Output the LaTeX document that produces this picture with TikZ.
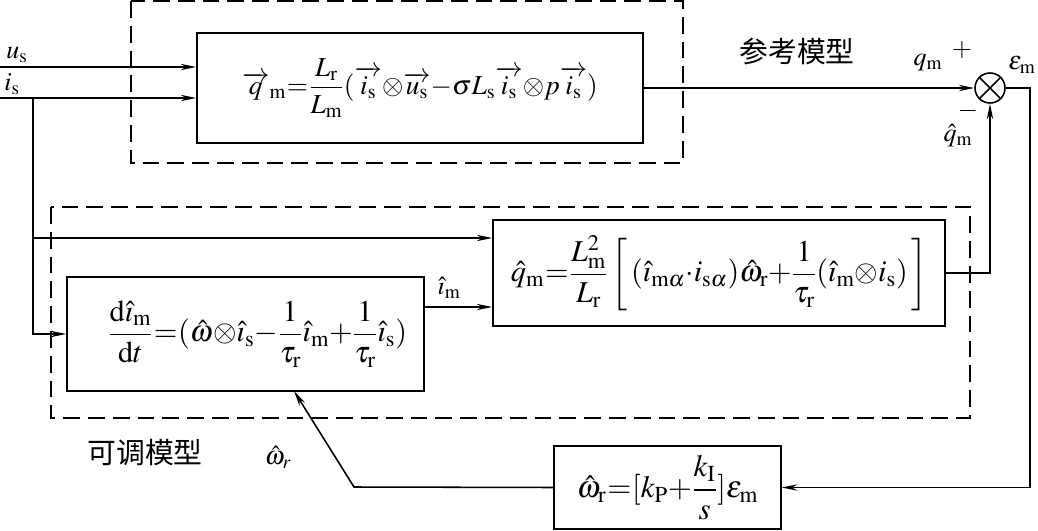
\documentclass[tikz,border=0pt]{standalone}
\usepackage{amsmath}
\usepackage{mathptmx}
\usepackage{fontspec}
\setmainfont{Liberation Serif}
\newfontfamily\cjk{Noto Sans CJK SC}
\usetikzlibrary{arrows.meta}
\newcommand{\tightmath}{\medmuskip=0mu\relax\thickmuskip=0.5mu\relax}
\tikzset{
  blk/.style={draw,line width=1.1pt,inner sep=0pt},
  grp/.style={draw,line width=1.1pt,dash pattern=on 0.42cm off 0.2cm},
  lbl/.style={inner sep=0pt},
  sig/.style={line width=1.1pt,->},
}
\newcommand{\cjklabel}[1]{{\cjk\fontsize{20.5}{24}\selectfont #1}}
\begin{document}
\begin{tikzpicture}[x=0.025cm,y=-0.025cm,font=\fontsize{18.5}{22}\selectfont\tightmath,>={Stealth[length=11pt,width=4.5pt]}]
\useasboundingbox (0,0) rectangle (1038,531);
\draw[grp] (131,1) rectangle (683,163);
\draw[grp] (51,207) rectangle (970,418);
\node[blk,minimum width=11.15cm,minimum height=2.75cm,font=\fontsize{19.5}{23}\selectfont\tightmath] (ref) at (420,88)
  {$\overrightarrow{q}_\mathrm{m}=\dfrac{L_\mathrm{r}}{L_\mathrm{m}}(\overrightarrow{i_\mathrm{s}}\otimes\overrightarrow{u_\mathrm{s}}-\sigma L_\mathrm{s}\overrightarrow{i_\mathrm{s}}\otimes p\overrightarrow{i_\mathrm{s}})$};
\node[blk,minimum width=11.3cm,minimum height=2.65cm,font=\fontsize{21.5}{25}\selectfont\tightmath] (qest) at (719,273)
  {$\hat{q}_\mathrm{m}=\dfrac{L_\mathrm{m}^2}{L_\mathrm{r}}\;\left[\,(\hat{\imath}_{\mathrm{m}\alpha}\boldsymbol{\cdot} i_{\mathrm{s}\alpha})\hat{\omega}_\mathrm{r}+\dfrac{1}{\tau_\mathrm{r}}(\hat{\imath}_\mathrm{m}\otimes i_\mathrm{s})\,\right]$};
\node[blk,minimum width=8.925cm,minimum height=2.85cm,font=\fontsize{21.5}{25}\selectfont\tightmath] (adj) at (245.5,334)
  {\hspace{0.6cm}$\dfrac{\mathrm{d}\hat{\imath}_\mathrm{m}}{\mathrm{d}t}=(\hat{\omega}\otimes\hat{\imath}_\mathrm{s}-\dfrac{1}{\tau_\mathrm{r}}\hat{\imath}_\mathrm{m}+\dfrac{1}{\tau_\mathrm{r}}\hat{\imath}_\mathrm{s})$};
\node[blk,minimum width=5.675cm,minimum height=2.075cm,font=\fontsize{22}{26}\selectfont\tightmath] (pi) at (667.5,487.5)
  {$\hat{\omega}_\mathrm{r}=[k_\mathrm{P}+\dfrac{k_\mathrm{I}}{s}]\varepsilon_\mathrm{m}$};
\node[draw,circle,line width=1.1pt,minimum size=0.75cm,inner sep=0pt] (sum) at (990,88) {};
\draw[line width=1.1pt] (sum.north west) -- (sum.south east) (sum.north east) -- (sum.south west);
\coordinate (us) at (0,67);
\coordinate (is) at (0,98);
\coordinate (br) at (33,98);
\coordinate (err) at (1030,88);
\coordinate (bend) at (354,487);
\coordinate (wr) at (294,391);
\draw[sig] (us) -- (us -| ref.west);
\draw[sig] (is) -- (is -| ref.west);
\draw[sig] (br) |- (adj.west);
\draw[sig] (br |- 0,238) -- (qest.west |- 0,238);
\draw[sig] (adj.east |- 0,307) -- (qest.west |- 0,307);
\draw[sig] (ref.east) -- (sum.west);
\draw[sig] (qest.east) -| (sum.south);
\draw[sig] (sum.east) -- (err) |- (pi.east);
\draw[sig] (pi.west) -- (bend) -- (wr);
\node[lbl] (uslbl) at (17,55) {$u_\mathrm{s}$};
\node[lbl] (islbl) at (12,84) {$i_\mathrm{s}$};
\node[lbl] (reflbl) at (797,52) {\cjklabel{参考模型}};
\node[lbl] (qlbl) at (928,63) {$q_\mathrm{m}$};
\node[lbl] (plus) at (962,50) {$+$};
\node[lbl] (elbl) at (1022,65) {$\varepsilon_\mathrm{m}$};
\node[lbl] (minus) at (968,111) {$-$};
\node[lbl] (qhlbl) at (958,136) {$\hat{q}_\mathrm{m}$};
\node[lbl] (imlbl) at (449,288) {$\hat{\imath}_\mathrm{m}$};
\node[lbl] (adjlbl) at (145,453) {\cjklabel{可调模型}};
\node[lbl] (wlbl) at (278,457) {$\hat{\omega}_r$};
\end{tikzpicture}
\end{document}
